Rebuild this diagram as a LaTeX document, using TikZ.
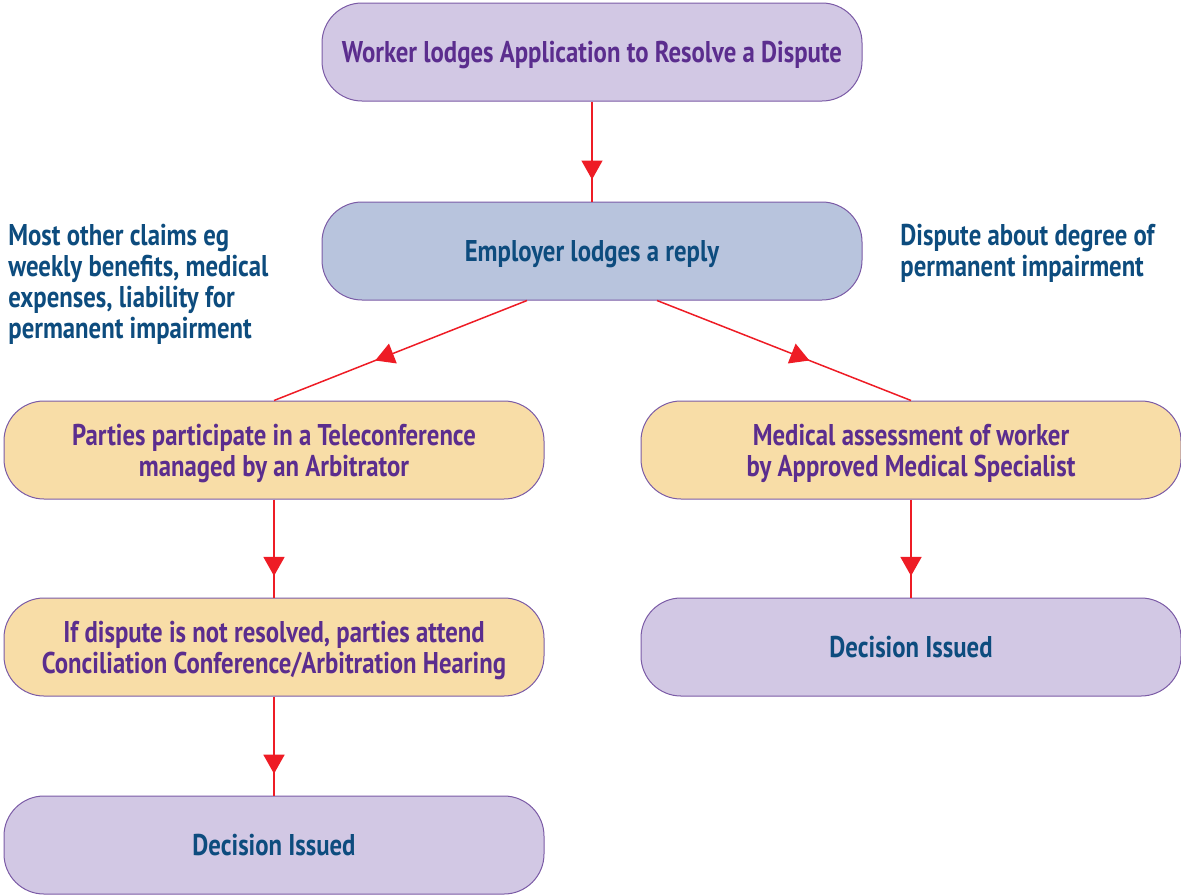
\documentclass[tikz,border=0pt]{standalone}
\usepackage{fontspec}
\setmainfont{PT Sans}[FakeStretch=0.825]
\usetikzlibrary{arrows.meta,decorations.markings,calc}
\definecolor{txtpurple}{HTML}{5B2D8E}
\definecolor{txtblue}{HTML}{0D4C7E}
\definecolor{edgepurple}{HTML}{7B5BA6}
\definecolor{filllav}{HTML}{D2C8E4}
\definecolor{fillblue}{HTML}{B8C4DD}
\definecolor{fillpeach}{HTML}{F8DDA7}
\definecolor{flowred}{HTML}{EE1C25}
\begin{document}
\begin{tikzpicture}[x=0.5pt,y=-0.5pt,
  box/.style={draw=edgepurple,line width=0.5pt,rounded corners=20pt,
    minimum width=270pt,minimum height=49pt,inner sep=0pt,align=center,
    text depth=0pt,font=\fontsize{15}{15.5}\selectfont\bfseries},
  lavbox/.style={box,fill=filllav},
  bluebox/.style={box,fill=fillblue},
  peachbox/.style={box,fill=fillpeach},
  sidenote/.style={align=left,anchor=north west,inner sep=0pt,text=txtblue,
    font=\fontsize{15}{15.5}\selectfont\bfseries},
  flow/.style={draw=flowred,line width=0.75pt,postaction={decorate},
    decoration={markings,mark=at position #1 with
      {\arrow[flowred]{Triangle[width=10.5pt,length=9.5pt]}}}},
  flow/.default=0.78]
\useasboundingbox (0,0) rectangle (1181,894);
% boxes
\node[lavbox,text=txtpurple] (apply) at (592,52) {Worker lodges Application to Resolve a Dispute};
\node[bluebox,text=txtblue] (reply) at (592,251) {Employer lodges a reply};
\node[peachbox,text=txtpurple] (tele) at (274,450) {Parties participate in a Teleconference\\managed by an Arbitrator};
\node[peachbox,text=txtpurple] (med) at (911,450) {Medical assessment of worker\\by Approved Medical Specialist};
\node[peachbox,text=txtpurple] (conc) at (274,647) {If dispute is not resolved, parties attend\\Conciliation Conference/Arbitration Hearing};
\node[lavbox,text=txtblue] (decR) at (911,647) {Decision Issued};
\node[lavbox,text=txtblue] (decL) at (274,845) {Decision Issued};
% side notes
\node[sidenote] (noteL) at (8,224) {Most other claims eg\\weekly benefits, medical\\expenses, liability for\\permanent impairment};
\node[sidenote] (noteR) at (900,224) {Dispute about degree of\\permanent impairment};
% connectors
\coordinate (replyL) at ($(reply.south)+(-65,0)$);
\coordinate (replyR) at ($(reply.south)+(65,0)$);
\path[flow] (apply.south) -- (reply.north);
\path[flow=0.6] (replyL) -- (tele.north);
\path[flow=0.6] (replyR) -- (med.north);
\path[flow] (tele.south) -- (conc.north);
\path[flow] (med.south) -- (decR.north);
\path[flow] (conc.south) -- (decL.north);
\end{tikzpicture}
\end{document}
